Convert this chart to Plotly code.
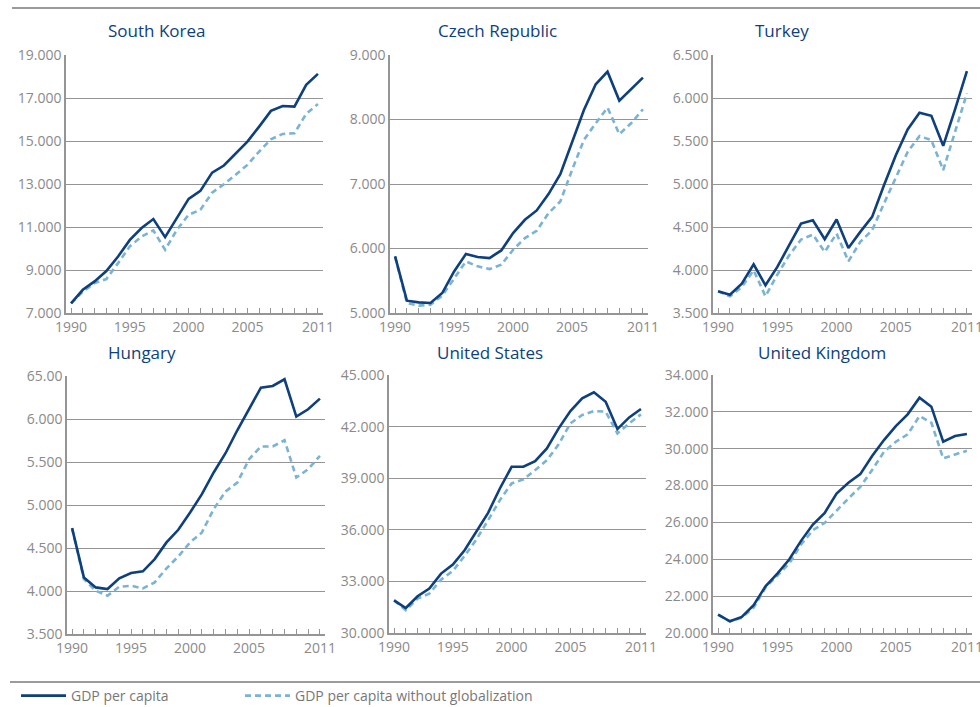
import plotly.graph_objects as go

years = list(range(1990, 2012))

countries = ["South Korea", "Czech Republic", "Turkey", "Hungary", "United States", "United Kingdom"]

korea_gdp = [7450, 8080, 8470, 8950, 9630, 10400, 10950, 11370, 10530, 11450, 12310, 12680,
             13530, 13860, 14430, 14970, 15670, 16400, 16630, 16600, 17610, 18120]
korea_noglob = [7450, 8000, 8390, 8580, 9320, 10100, 10560, 10840, 9940, 10870, 11570, 11800,
                12600, 12990, 13430, 13890, 14510, 15080, 15330, 15360, 16260, 16720]

czech_gdp = [5877, 5191, 5165, 5155, 5310, 5645, 5914, 5867, 5852, 5970, 6239, 6445,
             6590, 6843, 7152, 7643, 8148, 8546, 8742, 8293, 8468, 8649]
czech_noglob = [5877, 5155, 5114, 5129, 5268, 5542, 5800, 5723, 5681, 5748, 5980, 6161,
                6275, 6548, 6729, 7219, 7684, 7942, 8185, 7772, 7942, 8159]

turkey_gdp = [3752, 3713, 3841, 4067, 3822, 4036, 4288, 4540, 4579, 4358, 4587, 4257,
              4443, 4618, 4986, 5335, 5634, 5828, 5793, 5444, 5867, 6313]
turkey_noglob = [3752, 3694, 3803, 3997, 3694, 3946, 4171, 4354, 4412, 4210, 4424, 4101,
                 4327, 4462, 4773, 5064, 5374, 5557, 5510, 5161, 5607, 6053]

hungary_gdp = [4731, 4158, 4042, 4023, 4147, 4209, 4228, 4371, 4565, 4712, 4913, 5126,
               5378, 5602, 5869, 6121, 6365, 6384, 6462, 6028, 6113, 6237]
hungary_noglob = [4731, 4139, 4003, 3945, 4050, 4061, 4030, 4100, 4263, 4402, 4565, 4681,
                  4952, 5157, 5261, 5533, 5680, 5680, 5753, 5320, 5416, 5571]

us_gdp = [31902, 31455, 32135, 32581, 33454, 33978, 34813, 35880, 36986, 38403, 39664, 39664,
          39994, 40732, 41896, 42905, 43642, 43992, 43448, 41857, 42536, 43021]
us_noglob = [31902, 31320, 31999, 32290, 33105, 33610, 34483, 35434, 36559, 37724, 38694, 38927,
             39470, 40052, 40965, 42187, 42672, 42905, 42866, 41605, 42187, 42711]

uk_gdp = [20996, 20634, 20869, 21503, 22536, 23224, 23985, 25000, 25887, 26521, 27571, 28151,
          28622, 29600, 30469, 31230, 31864, 32770, 32280, 30379, 30686, 30795]
uk_noglob = [20996, 20634, 20833, 21377, 22463, 23097, 23767, 24800, 25579, 25977, 26665, 27300,
             27933, 28839, 29835, 30379, 30777, 31773, 31411, 29473, 29690, 29890]

# y-axis ticks and labels
korea_ticks = [7000, 9000, 11000, 13000, 15000, 17000, 19000]
korea_labels = ["7.000", "9.000", "11.000", "13.000", "15.000", "17.000", "19.000"]
czech_ticks = [5000, 6000, 7000, 8000, 9000]
czech_labels = ["5.000", "6.000", "7.000", "8.000", "9.000"]
turkey_ticks = [3500, 4000, 4500, 5000, 5500, 6000, 6500]
turkey_labels = ["3.500", "4.000", "4.500", "5.000", "5.500", "6.000", "6.500"]
hungary_ticks = [3500, 4000, 4500, 5000, 5500, 6000, 6500]
hungary_labels = ["3.500", "4.000", "4.500", "5.000", "5.500", "6.000", "65.00"]
us_ticks = [30000, 33000, 36000, 39000, 42000, 45000]
us_labels = ["30.000", "33.000", "36.000", "39.000", "42.000", "45.000"]
uk_ticks = [20000, 22000, 24000, 26000, 28000, 30000, 32000, 34000]
uk_labels = ["20.000", "22.000", "24.000", "26.000", "28.000", "30.000", "32.000", "34.000"]

x_labels = {1990: "1990", 1995: "1995", 2000: "2000", 2005: "2005", 2011: "2011"}

series = [
    (korea_gdp, korea_noglob, korea_ticks, korea_labels),
    (czech_gdp, czech_noglob, czech_ticks, czech_labels),
    (turkey_gdp, turkey_noglob, turkey_ticks, turkey_labels),
    (hungary_gdp, hungary_noglob, hungary_ticks, hungary_labels),
    (us_gdp, us_noglob, us_ticks, us_labels),
    (uk_gdp, uk_noglob, uk_ticks, uk_labels),
]

W, H = 980, 707
DARK = "#0e3f7e"
LIGHT = "#7ab3d3"
GRID = "#959595"
TICKC = "#8a8a8a"
FONT = "Open Sans"

# layout geometry in pixels
x_doms = [(66, 323), (390, 648), (713, 972), (67, 325), (389, 646), (713, 972)]
y_doms = [(55, 313), (55, 313), (55, 313), (376, 634), (375, 633), (375, 633)]
title_pos = [(156, 30), (497, 30), (782, 30), (142, 352), (490, 352), (822, 352)]

fig = go.Figure()
layout = {}
for i, (gdp, nog, ticks, labels) in enumerate(series):
    n = "" if i == 0 else str(i + 1)
    xa, ya = "x" + n, "y" + n
    fig.add_trace(go.Scatter(x=years, y=nog, mode="lines", xaxis=xa, yaxis=ya,
                             name="GDP per capita without globalization", legend="legend2",
                             line=dict(color=LIGHT, width=2.6, dash="6px,4px"),
                             showlegend=(i == 0)))
    fig.add_trace(go.Scatter(x=years, y=gdp, mode="lines", xaxis=xa, yaxis=ya,
                             name="GDP per capita", legend="legend",
                             line=dict(color=DARK, width=2.6),
                             showlegend=(i == 0)))
    x0, x1 = x_doms[i]
    y0, y1 = y_doms[i]
    layout["xaxis" + n] = dict(
        domain=[x0 / W, x1 / W], anchor=ya, range=[1989.57, 2011.43], automargin=False,
        tickvals=years, ticktext=[x_labels.get(y, "") for y in years],
        ticks="inside", ticklen=5, tickwidth=1, tickcolor=GRID, ticklabeloverflow="allow",
        showline=True, linecolor=GRID, linewidth=1.5, showgrid=False, zeroline=False,
        tickfont=dict(family=FONT, size=14, color=TICKC), fixedrange=True)
    layout["yaxis" + n] = dict(
        domain=[1 - y1 / H, 1 - y0 / H], anchor=xa, range=[ticks[0], ticks[-1]], automargin=False,
        tickvals=ticks, ticktext=labels, ticks="", ticklabeloverflow="allow",
        showline=True, linecolor=GRID, linewidth=1.5,
        showgrid=True, gridcolor=GRID, gridwidth=1, zeroline=False,
        tickfont=dict(family=FONT, size=14, color=TICKC), fixedrange=True)

annotations = []
for (cx, cy), name in zip(title_pos, countries):
    annotations.append(dict(x=cx / W, y=1 - cy / H, xref="paper", yref="paper",
                            text=name, showarrow=False, xanchor="center", yanchor="middle",
                            font=dict(family=FONT, size=17, color=DARK)))

shapes = [
    dict(type="line", xref="paper", yref="paper", x0=12 / W, x1=1, y0=1 - 8 / H, y1=1 - 8 / H,
         line=dict(color="#9b9b9b", width=2)),
    dict(type="line", xref="paper", yref="paper", x0=10 / W, x1=1, y0=1 - 682 / H, y1=1 - 682 / H,
         line=dict(color="#9b9b9b", width=2)),
]

legend_style = dict(orientation="h", yanchor="middle", xanchor="left", itemwidth=45,
                    font=dict(family=FONT, size=14, color="#777777"),
                    bgcolor="rgba(0,0,0,0)", itemclick=False, itemdoubleclick=False)

fig.update_layout(
    **layout,
    width=W, height=H,
    margin=dict(l=0, r=0, t=0, b=0, autoexpand=False),
    paper_bgcolor="white", plot_bgcolor="white",
    annotations=annotations, shapes=shapes,
    showlegend=True,
    legend=dict(x=16 / W, y=1 - 696 / H, **legend_style),
    legend2=dict(x=240 / W, y=1 - 696 / H, **legend_style),
)

fig.write_html("out.html", config={"displayModeBar": False},
               post_script="document.body.style.margin='0';document.body.style.overflow='hidden';")
